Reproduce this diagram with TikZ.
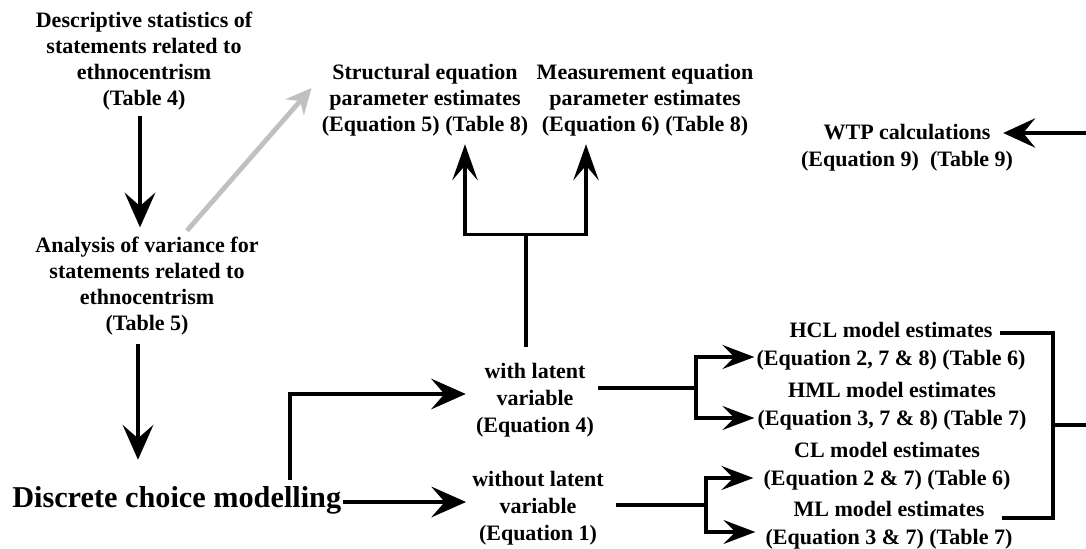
\documentclass[tikz,border=0pt]{standalone}
\usepackage{fontspec}
\setmainfont{Liberation Serif}[BoldFont={Liberation Serif Bold},ItalicFont={Liberation Serif Italic}]
\usetikzlibrary{arrows.meta,calc}
\begin{document}
\begin{tikzpicture}[x=0.75pt,y=-0.75pt,
  lbl/.style={align=center,inner sep=3pt,font=\bfseries\fontsize{16.5}{19.5}\selectfont},
  lblb/.style={align=center,inner sep=3pt,font=\bfseries\fontsize{16.5}{20.3}\selectfont},
  lblr/.style={align=center,inner sep=3pt,font=\bfseries\fontsize{16.5}{20.6}\selectfont},
  big/.style={inner sep=0pt,font=\bfseries\fontsize{22.7}{26}\selectfont},
  ln/.style={line width=2.7pt,black},
  arrbig/.style={ln,-{Stealth[length=26pt,width=23pt,inset=10pt]}},
  arrup/.style={ln,-{Stealth[length=27pt,width=19pt,inset=11pt]}},
  arrsm/.style={ln,-{Stealth[length=24pt,width=18pt,inset=9pt]}},
  arrwtp/.style={ln,-{Stealth[length=24pt,width=22pt,inset=9pt]}},
  arrgray/.style={line width=3.6pt,draw={rgb,255:red,192;green,192;blue,192},-{Stealth[length=19pt,width=18pt,inset=6pt]}}
]
\useasboundingbox[fill=white] (0,0) rectangle (1086,549);

\node[lbl] (desc) at (144,61) {Descriptive statistics of\\statements related to\\ethnocentrism\\(Table 4)};
\node[lbl] (anal) at (147,286) {Analysis of variance for\\statements related to\\ethnocentrism\\(Table 5)};
\node[big,anchor=base west] (dcm) at (12,507) {Discrete choice modelling};
\node[lbl] (struct) at (425,100) {Structural equation\\parameter estimates\\(Equation 5) (Table 8)};
\node[lbl] (meas) at (645,100) {Measurement equation\\parameter estimates\\(Equation 6) (Table 8)};
\node[lblb] (wtp) at (907,148) {WTP calculations\\(Equation 9)~~(Table 9)};
\node[lblb] (with) at (535,400) {with latent\\variable\\(Equation 4)};
\node[lblb] (without) at (538,508) {without latent\\variable\\(Equation 1)};
\node[lblr] (hcl) at (891,346) {HCL model estimates\\(Equation 2, 7 \& 8) (Table 6)};
\node[lblr] (hml) at (892,406) {HML model estimates\\(Equation 3, 7 \& 8) (Table 7)};
\node[lblr] (cl) at (887,466) {CL model estimates\\(Equation 2 \& 7) (Table 6)};
\node[lblr] (ml) at (889,525) {ML model estimates\\(Equation 3 \& 7) (Table 7)};

% left column
\draw[arrbig] ($(desc.south)+(-4,2)$) coordinate (a1) -- ($(a1)+(0,111)$);
\draw[arrbig] ($(anal.north)+(-9,111)$) coordinate (a2) -- ($(a2)+(0,116)$);
\draw[arrgray] ($(anal.north)+(40,-2)$) -- ($(struct.west)+(-6,-12)$);

% discrete choice branches
\draw[arrbig] ($(dcm.base east)+(2,-5)$) coordinate (d1) -- ($(without.west |- d1)+(-2,0)$);
\draw[arrbig] ($(dcm.north)+(113,-6)$) |- ($(with.west)+(-6,-6)$);

% latent branch up
\draw[ln] ($(with.north)+(-9,-12)$) -- ++(0,-112) coordinate (s1);
\draw[arrup] (s1) -| ($(struct.south)+(40,4)$);
\draw[arrup] (s1) -| ($(meas.south)+(-59,4)$);

% right forks
\draw[ln] ($(with.east)+(0,-12)$) -- ++(98,0) coordinate (f1);
\draw[arrsm] (f1) |- ($(hcl.west)+(2,11)$);
\draw[arrsm] (f1) |- ($(hml.west)+(1,12)$);
\draw[ln] ($(without.east)+(8,-3)$) -- ++(90,0) coordinate (f2);
\draw[arrsm] (f2) |- ($(cl.west)+(-6,12)$);
\draw[arrsm] (f2) |- ($(ml.west)+(-6,7)$);

% bracket
\coordinate (e1) at (1086,425);
\coordinate (e2) at (1086,133);
\coordinate (bt) at ($(hcl.north)+(162,15)$);
\draw[ln] ($(hcl.north)+(109,15)$) -- (bt) |- ($(ml.north)+(113,21)$);
\draw[ln] (e1 -| bt) -- (e1);
\draw[arrwtp] (e2) -- ($(wtp.east)+(-14,-15)$);
\end{tikzpicture}
\end{document}
